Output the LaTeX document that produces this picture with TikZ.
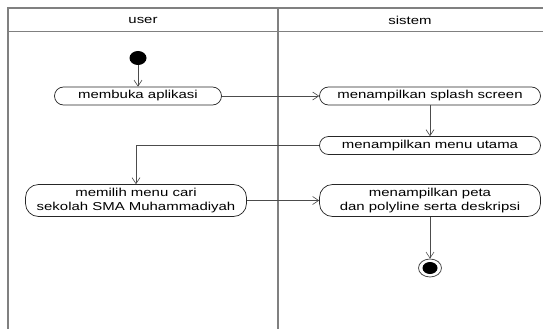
\documentclass[tikz,border=0pt]{standalone}
\usepackage{fontspec}
\setmainfont{Liberation Sans}[FakeStretch=1.3]
\usetikzlibrary{arrows.meta,shapes.geometric}
\begin{document}
\begin{tikzpicture}[x=1pt,y=-1pt,
  lane/.style={draw=black!50, line width=1.3pt},
  act/.style={draw=black!85, line width=0.7pt, rounded corners=9pt, align=center, inner sep=0pt, minimum height=18pt, font=\fontsize{11.5}{13.5}\selectfont},
  act2/.style={act, rounded corners=13pt, minimum height=32pt},
  flow/.style={draw=black!70, line width=0.6pt, -{Straight Barb[length=6pt,width=8pt]}}]
\useasboundingbox (0,0) rectangle (543,329);
\draw[lane] (543,8) -- (8,8) -- (8,329);
\draw[lane] (8,31.5) -- (543,31.5);
\draw[lane] (278,8) -- (278,329);
\node[font=\fontsize{11.5}{13.5}\selectfont] (user) at (143,20) {user};
\node[font=\fontsize{11.5}{13.5}\selectfont] (sistem) at (410,20) {sistem};
\node[ellipse, fill=black, minimum width=17pt, minimum height=14pt, inner sep=0pt] (start) at (138,58) {};
\node[act, minimum width=167pt] (buka) at (138,96) {membuka aplikasi};
\node[act, minimum width=221pt] (splash) at (430,96) {menampilkan splash screen};
\node[act, minimum width=221pt] (menu) at (430,145.5) {menampilkan menu utama};
\node[act2, minimum width=221pt] (pilih) at (136,200.5) {memilih menu cari\\sekolah SMA Muhammadiyah};
\node[act2, minimum width=221pt] (peta) at (430,200.5) {menampilkan peta\\dan polyline serta deskripsi};
\node[ellipse, draw=black!70, line width=0.8pt, minimum width=23pt, minimum height=18pt, inner sep=0pt] (stop) at (430,268) {};
\fill (stop.center) ellipse [x radius=7.5pt, y radius=6pt];
\draw[flow] (start) -- (buka);
\draw[flow] (buka) -- (splash);
\draw[flow] (splash) -- (menu);
\draw[flow] (menu.west) -| (pilih.north);
\draw[flow] (pilih) -- (peta);
\draw[flow] (peta) -- (stop);
\end{tikzpicture}
\end{document}
